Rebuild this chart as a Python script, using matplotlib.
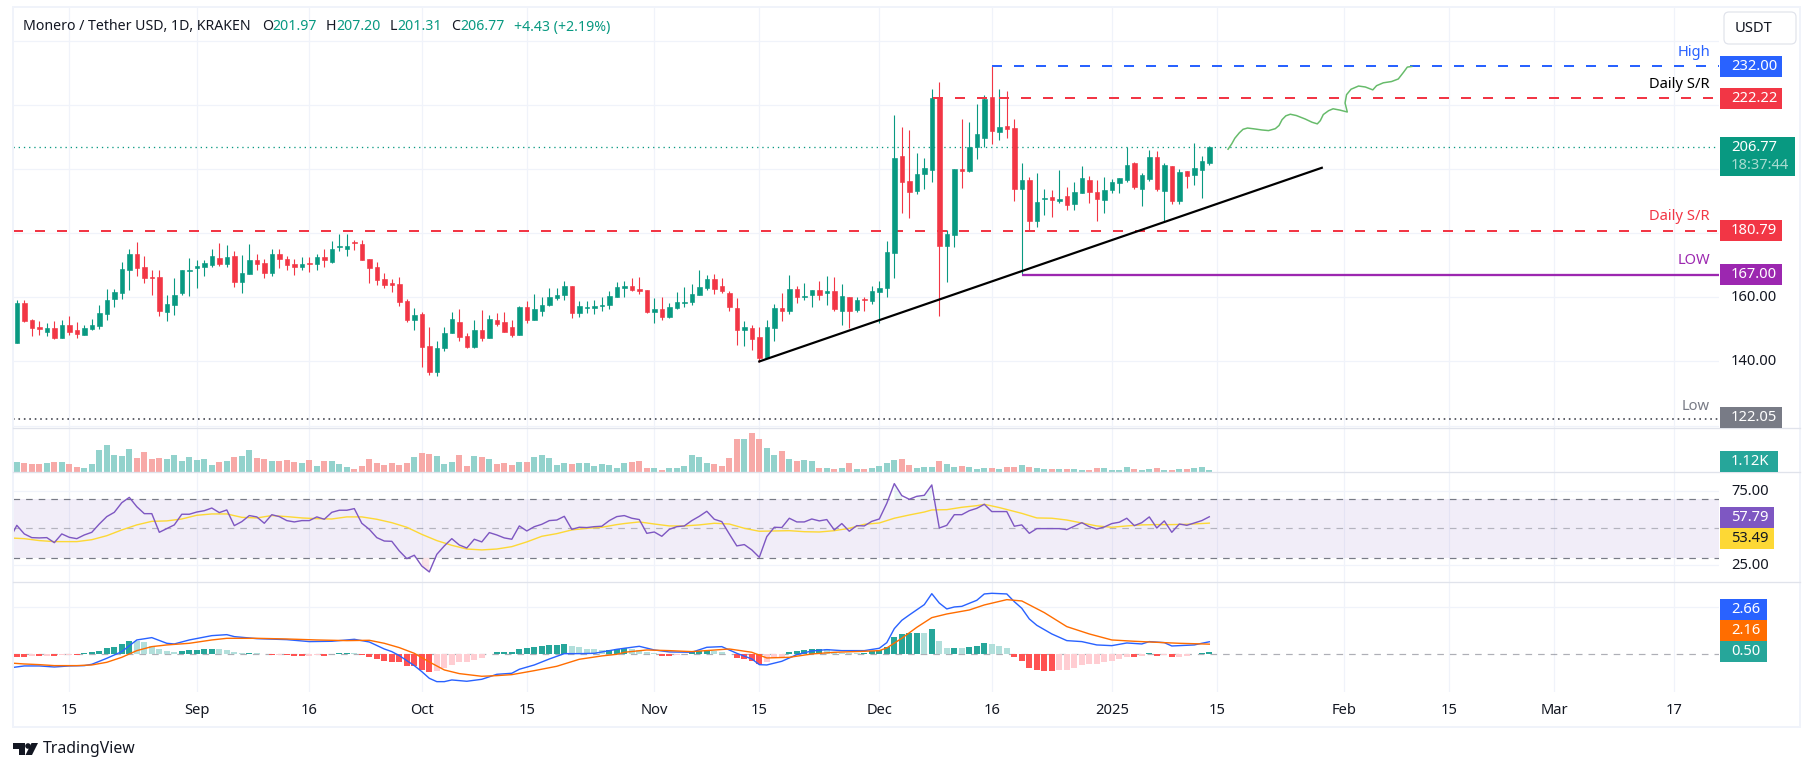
"""Monero / Tether USD daily chart in the TradingView layout."""

import matplotlib

matplotlib.use("Agg")
import matplotlib.pyplot as plt
import numpy as np
from matplotlib.patches import Circle, FancyBboxPatch, Polygon, Rectangle

WIDTH, HEIGHT = 1814, 771
plt.rcParams["font.family"] = ["Noto Sans", "DejaVu Sans"]

# x values are days counted from 15 Aug 2024
CANDLE_DAYS = np.arange(-7, 153)

OPENS = [
    145.8, 158.2, 152.8, 150.7, 149.3, 150.4, 147.4, 151.4, 149.8, 148.3,
    150.2, 151.1, 154.9, 159.6, 161.5, 168.6, 173.5, 169.5, 166.4, 166.4,
    155.5, 157.7, 161.5, 168.3, 169.0, 169.6, 170.2, 172.3, 170.5, 172.9,
    164.9, 167.4, 171.7, 170.7, 167.7, 173.5, 172.0, 170.4, 169.6, 170.7,
    170.5, 172.6, 171.1, 175.8, 175.2, 177.3, 176.7, 172.0, 169.5, 165.7,
    164.5, 164.2, 158.9, 153.0, 154.8, 144.8, 136.8, 144.3, 149.0, 152.3,
    147.9, 144.6, 149.8, 147.4, 152.9, 152.3, 150.7, 148.3, 157.0, 153.0,
    155.8, 157.6, 159.8, 160.7, 163.5, 155.2, 156.7, 156.8, 157.4, 157.7,
    160.1, 163.0, 163.5, 162.6, 162.3, 155.5, 156.4, 154.0, 156.7, 158.2,
    158.5, 160.8, 162.9, 165.7, 163.5, 161.4, 156.7, 149.9, 150.4, 147.6,
    141.1, 150.5, 156.7, 155.8, 162.6, 160.2, 160.8, 162.3, 161.5, 162.0,
    155.8, 160.1, 156.0, 159.5, 159.0, 161.7, 162.9, 173.9, 204.2, 196.4,
    193.2, 198.5, 199.8, 222.6, 176.0, 179.5, 200.1, 199.5, 207.0, 209.8,
    222.6, 211.7, 213.5, 212.9, 193.9, 196.7, 183.9, 190.8, 191.4, 190.1,
    191.7, 189.2, 192.6, 196.7, 192.9, 190.4, 193.5, 195.7, 196.7, 202.0,
    193.9, 197.0, 203.9, 193.2, 201.0, 190.1, 199.5, 198.2, 199.8, 201.97,
]
CLOSES = [
    158.2, 152.7, 150.5, 150.2, 150.4, 147.4, 151.4, 149.3, 148.6, 150.4,
    151.4, 155.1, 159.2, 161.7, 168.9, 173.5, 169.3, 166.1, 166.1, 155.8,
    157.9, 160.7, 168.5, 168.5, 169.8, 170.7, 172.9, 170.5, 172.6, 164.9,
    167.6, 171.7, 170.5, 167.7, 173.5, 172.1, 170.2, 169.6, 170.4, 170.5,
    172.6, 171.5, 175.1, 176.0, 176.0, 177.1, 171.8, 169.3, 165.5, 164.0,
    164.0, 158.6, 153.0, 154.5, 144.6, 136.8, 144.2, 148.9, 153.2, 147.7,
    144.6, 149.8, 147.4, 153.2, 151.7, 149.3, 148.3, 157.0, 152.9, 156.4,
    157.6, 160.1, 160.7, 163.5, 155.2, 157.3, 157.0, 157.3, 157.6, 160.4,
    163.2, 163.5, 162.3, 162.1, 155.5, 156.4, 154.0, 157.0, 158.5, 158.5,
    161.0, 163.2, 165.7, 162.6, 162.1, 157.1, 149.9, 150.7, 147.1, 141.1,
    150.7, 156.7, 155.8, 162.6, 160.2, 160.4, 162.3, 160.8, 162.0, 156.5,
    160.4, 155.8, 159.2, 159.3, 162.0, 162.9, 174.2, 203.5, 196.0, 192.9,
    198.5, 200.4, 222.3, 176.0, 179.8, 200.1, 199.5, 207.0, 211.0, 222.0,
    212.0, 213.2, 212.6, 193.9, 196.7, 183.9, 189.8, 191.0, 190.4, 190.7,
    188.9, 192.9, 197.3, 192.9, 190.7, 193.5, 196.0, 197.3, 201.4, 194.5,
    198.2, 203.9, 193.9, 201.4, 190.1, 199.2, 197.9, 200.4, 202.6, 206.77,
]
HIGHS = [
    159.2, 159.2, 153.1, 152.6, 152.0, 152.6, 152.9, 154.2, 152.3, 151.4,
    153.2, 157.6, 162.6, 162.6, 171.0, 175.1, 177.3, 172.9, 168.5, 168.5,
    160.7, 166.0, 168.5, 172.3, 171.7, 171.7, 175.1, 177.0, 176.4, 174.5,
    173.2, 176.7, 173.5, 172.0, 175.1, 175.1, 172.9, 172.0, 172.6, 172.6,
    173.5, 175.1, 177.6, 179.8, 179.8, 177.9, 177.9, 172.0, 171.0, 167.6,
    165.7, 166.4, 159.5, 156.7, 155.4, 150.7, 146.4, 150.7, 155.4, 156.4,
    148.9, 152.9, 156.0, 154.5, 155.1, 155.4, 152.9, 157.3, 158.9, 161.0,
    160.1, 162.9, 162.9, 165.1, 163.5, 158.9, 158.9, 159.2, 160.1, 162.0,
    164.8, 165.1, 166.0, 166.4, 162.3, 159.8, 160.1, 158.2, 161.7, 163.2,
    164.2, 168.5, 167.0, 167.3, 166.0, 162.0, 159.8, 152.6, 151.4, 150.7,
    152.9, 157.9, 161.4, 167.0, 163.5, 164.5, 162.3, 165.1, 166.7, 166.4,
    164.2, 160.1, 160.1, 160.1, 163.5, 165.1, 177.6, 217.0, 213.2, 212.3,
    205.1, 203.5, 225.1, 227.3, 181.0, 200.1, 215.7, 214.8, 220.4, 223.2,
    232.0, 225.1, 224.5, 215.7, 202.0, 197.6, 198.9, 193.9, 193.5, 199.8,
    194.5, 196.0, 201.0, 197.9, 196.7, 197.6, 197.0, 197.3, 206.8, 202.3,
    198.9, 206.0, 205.7, 202.0, 201.0, 200.1, 199.5, 208.2, 204.2, 207.20,
]
LOWS = [
    145.8, 152.4, 148.0, 148.3, 148.0, 147.1, 147.4, 148.4, 147.4, 148.3,
    149.9, 150.2, 153.0, 157.1, 159.6, 162.4, 166.8, 164.6, 160.8, 154.3,
    152.7, 154.6, 160.8, 160.5, 163.0, 166.5, 169.6, 169.9, 169.6, 163.3,
    161.5, 167.4, 168.6, 166.1, 166.8, 169.0, 168.6, 167.1, 168.6, 168.0,
    168.6, 169.6, 170.8, 174.6, 173.0, 174.9, 171.8, 164.6, 164.0, 163.0,
    161.8, 157.3, 152.4, 149.9, 138.3, 135.8, 135.5, 143.3, 149.0, 146.5,
    144.3, 144.3, 146.5, 147.4, 151.0, 149.3, 147.7, 148.3, 152.1, 153.0,
    154.3, 157.3, 159.2, 159.2, 153.6, 154.0, 155.2, 154.9, 155.8, 156.5,
    160.1, 160.1, 162.0, 161.1, 155.2, 152.1, 153.0, 153.6, 156.4, 157.1,
    157.7, 160.8, 162.3, 161.1, 161.5, 155.8, 145.2, 144.9, 143.6, 139.9,
    141.1, 146.5, 152.7, 154.9, 158.3, 159.3, 157.1, 159.3, 157.7, 155.8,
    151.5, 150.4, 155.4, 155.8, 158.0, 152.0, 160.1, 166.0, 186.4, 184.8,
    192.3, 193.9, 196.0, 154.2, 164.8, 175.7, 194.2, 199.2, 203.2, 207.0,
    207.9, 209.2, 209.8, 190.1, 167.0, 181.0, 182.0, 185.7, 185.1, 189.5,
    187.3, 187.3, 192.6, 189.5, 183.9, 186.4, 192.6, 192.6, 196.0, 193.9,
    188.5, 196.4, 193.2, 183.5, 189.2, 189.2, 194.2, 195.1, 191.0, 201.31,
]

# thousands of XMR per day
VOLUMES = [
    5.0, 4.6, 4.1, 4.1, 4.6, 5.0, 5.0, 4.1, 2.6, 2.1,
    4.1, 10.9, 13.3, 8.5, 8.0, 11.4, 7.0, 9.9, 6.5, 7.0,
    6.5, 8.5, 5.5, 7.5, 6.0, 6.5, 3.6, 5.0, 5.5, 7.5,
    8.0, 10.9, 7.0, 6.5, 5.5, 5.5, 6.0, 5.0, 4.6, 6.0,
    3.1, 5.5, 5.5, 4.1, 2.6, 1.6, 3.1, 6.5, 4.6, 3.6,
    4.6, 3.6, 4.6, 7.5, 9.4, 8.9, 8.0, 4.1, 5.0, 8.5,
    3.1, 8.0, 7.5, 6.5, 4.1, 4.6, 3.6, 5.0, 5.0, 7.5,
    8.5, 7.0, 3.6, 4.6, 4.1, 4.6, 4.6, 3.1, 4.1, 3.6,
    2.1, 4.6, 5.0, 5.5, 2.1, 2.1, 1.1, 2.1, 2.1, 3.1,
    8.5, 7.5, 4.6, 4.1, 3.1, 7.0, 16.3, 16.3, 19.3, 16.3,
    11.9, 8.5, 10.4, 6.5, 5.5, 6.0, 5.5, 2.1, 2.1, 1.6,
    2.1, 4.6, 1.6, 1.6, 2.1, 3.1, 4.6, 6.0, 6.5, 3.6,
    2.1, 2.6, 2.6, 5.5, 4.1, 2.6, 3.1, 2.6, 1.6, 2.1,
    2.1, 1.6, 2.6, 2.6, 3.6, 2.6, 2.1, 1.6, 1.6, 1.6,
    1.6, 1.6, 1.1, 1.1, 2.1, 2.1, 1.1, 1.1, 2.6, 1.6,
    1.1, 1.6, 2.1, 1.1, 1.1, 1.6, 1.6, 2.1, 2.6, 1.12,
]

# RSI starts one day before the first visible candle
RSI_DAYS = np.arange(-8, 153)
RSI_VALUES = [
    42.1, 52.0, 46.2, 43.7, 43.5, 43.7, 40.3, 46.2, 43.9, 43.0,
    45.5, 47.3, 52.9, 57.9, 60.8, 67.3, 70.9, 64.6, 59.9, 59.9,
    47.3, 49.8, 52.3, 59.5, 59.5, 61.0, 61.9, 63.7, 60.6, 62.4,
    51.8, 54.5, 58.6, 57.7, 53.4, 59.2, 57.9, 55.2, 54.3, 55.2,
    55.2, 57.7, 56.1, 60.8, 62.2, 62.2, 63.3, 53.4, 49.3, 43.7,
    41.4, 41.2, 34.7, 29.5, 31.8, 24.5, 20.5, 32.4, 38.1, 43.0,
    38.7, 36.7, 42.6, 40.8, 47.1, 45.5, 43.5, 42.6, 51.6, 48.2,
    51.1, 52.7, 55.2, 55.6, 58.1, 49.3, 50.7, 50.5, 51.1, 51.4,
    55.2, 57.9, 58.6, 56.8, 55.9, 46.6, 47.5, 44.6, 49.3, 51.1,
    51.6, 55.2, 58.1, 61.5, 56.1, 54.5, 46.2, 38.1, 39.0, 35.4,
    30.4, 44.4, 50.7, 50.5, 56.8, 54.3, 54.3, 56.3, 55.0, 55.9,
    48.9, 53.2, 48.0, 51.8, 51.6, 54.7, 56.3, 66.9, 80.2, 72.1,
    69.6, 71.6, 72.3, 79.3, 50.2, 52.0, 59.2, 59.2, 61.9, 63.5,
    66.2, 61.3, 61.3, 61.3, 51.4, 52.3, 46.6, 49.8, 49.8, 49.8,
    49.8, 49.1, 51.4, 53.8, 51.1, 49.5, 50.9, 53.2, 54.1, 56.8,
    51.8, 53.8, 57.7, 50.2, 55.0, 47.3, 52.9, 52.0, 53.6, 55.2,
    57.79,
]

RSI_MA_DAYS = [
    -8, -6, -4, -2, 1, 3, 5, 7, 9, 11, 13, 15, 17, 19, 21, 23, 25, 27, 29, 31,
    33, 35, 37, 39, 41, 43, 45, 47, 49, 51, 53, 55, 57, 59, 61, 63, 65, 67, 69,
    71, 73, 74, 76, 78, 80, 82, 84, 86, 88, 90, 92, 94, 96, 98, 100, 102, 104,
    106, 108, 110, 112, 114, 115, 117, 119, 121, 122, 124, 127, 129, 131, 133,
    135, 137, 139, 141, 143, 145, 147, 149, 152,
]
RSI_MA_VALUES = [
    43.5, 43.0, 41.7, 41.0, 41.0, 42.3, 45.0, 48.9, 52.3, 54.7, 55.0, 56.3,
    58.8, 59.7, 59.7, 57.4, 57.0, 58.6, 57.9, 57.0, 56.5, 56.3, 57.7, 57.7,
    56.1, 53.8, 50.7, 45.9, 41.7, 38.5, 36.0, 35.4, 36.0, 37.6, 40.8, 44.6,
    46.4, 48.9, 50.0, 50.7, 52.5, 53.2, 54.3, 52.9, 51.6, 51.6, 52.3, 53.4,
    52.9, 50.0, 48.0, 48.2, 48.4, 47.7, 47.5, 48.4, 50.0, 52.7, 53.6, 56.8,
    59.0, 61.0, 62.4, 62.6, 64.2, 65.3, 66.2, 64.0, 60.1, 57.0, 56.8, 55.6,
    53.6, 51.6, 50.7, 51.6, 52.3, 52.5, 52.5, 52.7, 53.49,
]

MACD_HIST = [
    -0.64, -0.64, -0.35, -0.35, -0.28, -0.35, -0.14, -0.07, -0.07, 0.21,
    0.50, 0.71, 1.35, 1.56, 2.20, 2.84, 2.77, 2.62, 1.77, 1.13,
    0.71, 0.50, 0.71, 0.92, 0.93, 1.13, 1.14, 1.10, 0.92, 0.50,
    0.21, 0.28, 0.21, 0.07, -0.14, -0.12, -0.21, -0.35, -0.36, -0.28,
    -0.21, -0.35, -0.02, 0.28, 0.29, 0.27, -0.14, -0.57, -1.00, -1.42,
    -1.63, -1.65, -2.48, -2.50, -3.33, -3.76, -3.55, -2.98, -2.27, -1.63,
    -1.61, -1.21, -0.78, 0.02, 0.50, 0.52, 0.53, 1.13, 1.35, 1.56,
    1.77, 1.99, 2.00, 2.20, 1.77, 1.56, 1.13, 1.10, 0.92, 0.95,
    1.13, 1.35, 1.13, 0.92, 0.50, 0.21, -0.35, -0.36, -0.14, -0.01,
    0.43, 0.64, 0.92, 0.78, 0.43, 0.14, -0.78, -0.99, -1.35, -2.13,
    -1.56, -0.78, -0.64, 0.50, 0.71, 0.92, 1.13, 1.21, 1.13, 0.43,
    0.35, 0.28, 0.21, 0.35, 0.64, 0.92, 1.63, 3.69, 4.33, 4.54,
    4.61, 4.57, 5.39, 2.84, 1.35, 1.38, 1.35, 1.56, 1.77, 2.41,
    2.20, 1.77, 1.35, -0.57, -1.42, -2.91, -3.33, -3.55, -3.58, -3.33,
    -3.32, -2.91, -2.27, -2.06, -2.05, -1.63, -1.42, -0.99, -0.57, -0.60,
    -0.28, 0.28, -0.35, -0.07, -0.57, -0.50, -0.28, -0.02, 0.28, 0.50,
]

MACD_DAYS = [
    -8, -6, -4, -2, 0, 2, 3, 5, 7, 9, 11, 13, 14, 16, 19, 21, 22, 25, 29, 32,
    35, 38, 40, 42, 43, 44, 46, 47, 48, 49, 50, 51, 53, 55, 57, 59, 60, 62, 64,
    66, 68, 70, 73, 74, 76, 78, 80, 83, 85, 87, 89, 91, 92, 93, 95, 97, 99, 101,
    103, 106, 108, 109, 110, 111, 112, 114, 115, 116, 117, 118, 119, 120, 121,
    122, 123, 125, 126, 127, 128, 129, 131, 133, 135, 137, 139, 141, 143, 144,
    146, 147, 150, 151, 152,
]
MACD_VALUES = [
    -2.90, -2.48, -2.48, -2.70, -2.48, -2.41, -2.13, -0.85, 0.57, 3.05, 3.55,
    2.34, 2.20, 3.05, 3.97, 4.18, 3.76, 3.33, 3.12, 2.70, 2.77, 3.19, 2.62,
    1.13, 0.57, -0.28, -2.41, -3.69, -5.11, -5.82, -5.82, -5.46, -5.74, -5.32,
    -4.26, -4.04, -3.19, -2.27, -1.00, 0.14, 0.14, 0.21, 1.06, 1.28, 1.70,
    0.92, 0.50, 0.43, 1.49, 1.63, 0.21, -0.99, -2.20, -2.27, -1.49, -0.07,
    0.71, 0.99, 0.78, 0.78, 1.28, 2.48, 5.46, 7.23, 8.37, 10.57, 12.90, 10.90,
    9.65, 10.07, 10.20, 10.85, 11.49, 12.84, 12.98, 12.84, 11.20, 9.79, 7.52,
    6.17, 4.33, 2.91, 2.70, 1.99, 1.84, 2.41, 2.20, 2.70, 2.48, 1.77, 1.99,
    2.34, 2.66,
]
SIGNAL_DAYS = [
    -8, -6, -4, -2, 1, 3, 5, 7, 9, 11, 13, 16, 19, 21, 25, 29, 33, 37, 40, 42,
    44, 46, 48, 50, 52, 55, 57, 59, 62, 65, 68, 71, 73, 74, 77, 80, 83, 88, 91,
    93, 96, 99, 102, 106, 108, 109, 111, 113, 115, 117, 120, 122, 125, 127, 130,
    133, 136, 139, 142, 145, 148, 152,
]
SIGNAL_VALUES = [
    -1.84, -2.06, -2.20, -2.41, -2.41, -2.27, -1.70, -0.64, 0.78, 1.63, 1.99,
    2.34, 3.05, 3.40, 3.40, 3.26, 3.05, 2.91, 2.98, 2.34, 1.42, 0.21, -1.63,
    -3.33, -4.11, -4.68, -4.54, -4.33, -3.48, -2.55, -1.06, -0.35, 0.00, 0.43,
    0.92, 0.78, 0.57, 1.13, 0.43, -0.78, -0.64, 0.07, 0.43, 0.64, 0.78, 1.35,
    3.40, 5.74, 7.80, 8.58, 9.43, 10.50, 11.63, 11.35, 8.87, 5.89, 4.33, 3.05,
    2.77, 2.55, 2.34, 2.16,
]

# projected path, hand drawn on the original
PATH_DAYS = [
    154.5, 155.0, 155.4, 156.0, 156.5, 157.1, 158.1, 159.0, 159.9, 160.8, 161.3,
    161.7, 162.2, 162.8, 163.6, 164.8, 165.7, 166.4, 166.8, 167.2, 167.9, 168.5,
    169.4, 170.4, 170.1, 170.3, 170.9, 171.9, 172.8, 173.8, 174.3, 175.2, 176.3,
    177.2, 177.9, 178.4, 179.0,
]
PATH_PRICES = [
    206.2, 207.9, 209.6, 211.3, 212.4, 212.8, 212.5, 212.2, 212.0, 212.6, 213.6,
    215.4, 216.6, 217.1, 216.7, 215.6, 214.6, 214.1, 215.1, 217.0, 218.2, 218.8,
    218.4, 217.8, 220.6, 223.2, 224.9, 225.9, 225.6, 224.7, 226.0, 226.9, 227.3,
    228.1, 230.2, 231.8, 232.0,
]

TREND_DAYS = [92, 167]
TREND_PRICES = [140.0, 200.4]

LAST_PRICE = 206.77
HIGH_LEVEL = 232.00
RESISTANCE = 222.22
SUPPORT = 180.79
LOW_LEVEL = 167.00
OLD_LOW = 122.05

TICK_DAYS = [0, 17, 32, 47, 61, 78, 92, 108, 123, 139, 153, 170, 184, 198, 214]
TICK_LABELS = ["15", "Sep", "16", "Oct", "15", "Nov", "15", "Dec", "16", "2025",
               "15", "Feb", "15", "Mar", "17"]
PRICE_GRID = [120, 140, 160, 180, 200, 220, 240]

GREEN = "#089981"
RED = "#f23645"
BLUE = "#2962ff"
ORANGE = "#ff6d00"
PURPLE = "#9c27b0"
RSI_PURPLE = "#7e57c2"
YELLOW = "#fdd835"
TEAL = "#26a69a"
GRAY = "#787b86"
INK = "#131722"
GRID = "#f0f3fa"
PANE_LINE = "#e0e3eb"

PX = 0.72  # one pixel in points at dpi 100
LABEL_SIZE = 10.6
HEADER_SIZE = 10.2

# pane edges in pixels
PLOT_LEFT, PLOT_RIGHT = 13, 1719
FRAME_RIGHT, FRAME_TOP, FRAME_BOTTOM = 1800, 6.5, 727
VOL_TOP, RSI_TOP, MACD_TOP, MACD_BOTTOM = 428.3, 472.3, 582.3, 691.7
DAY_X0, DAY_PX = 69.3, 7.5


def pane(top, bottom, ylim):
    ax = fig.add_axes([
        PLOT_LEFT / WIDTH,
        1 - bottom / HEIGHT,
        (PLOT_RIGHT - PLOT_LEFT) / WIDTH,
        (bottom - top) / HEIGHT,
    ])
    ax.set_xlim((PLOT_LEFT - DAY_X0) / DAY_PX, (PLOT_RIGHT - DAY_X0) / DAY_PX)
    ax.set_ylim(*ylim)
    ax.set_xticks([])
    ax.set_yticks([])
    for spine in ax.spines.values():
        spine.set_visible(False)
    for day in TICK_DAYS:
        ax.axvline(day, color=GRID, lw=1.2 * PX, zorder=0)
    return ax


def pill(y0, y1, text, color, right=1782, text_color="white"):
    over.add_patch(Rectangle((1720, y0), right - 1720, y1 - y0, color=color, lw=0, zorder=3))
    over.text(1731, (y0 + y1) / 2, text, color=text_color, fontsize=LABEL_SIZE,
              va="center", ha="left", zorder=4)


fig = plt.figure(figsize=(WIDTH / 100, HEIGHT / 100), dpi=100, facecolor="white")

# ---------- price pane ----------
ax_price = pane(FRAME_TOP, VOL_TOP, (119.16, 250.7))
for level in PRICE_GRID:
    ax_price.axhline(level, color=GRID, lw=1.2 * PX, zorder=0)

opens = np.array(OPENS)
closes = np.array(CLOSES)
up = closes >= opens
candle_colors = np.where(up, GREEN, RED)
ax_price.vlines(CANDLE_DAYS, LOWS, HIGHS, colors=candle_colors, lw=1.1 * PX, zorder=3)
ax_price.bar(CANDLE_DAYS, np.abs(closes - opens), bottom=np.minimum(opens, closes),
             width=0.6, color=candle_colors, edgecolor=candle_colors, lw=0.6 * PX, zorder=3)

xmin, xmax = ax_price.get_xlim()
ax_price.hlines(LAST_PRICE, xmin, xmax, color=GREEN, lw=1.3 * PX, ls=(0, (1, 3)), zorder=2)
dash = (0, (5, 6))
ax_price.hlines(HIGH_LEVEL, TICK_DAYS[8], xmax, color=BLUE, lw=2 * PX, ls=dash, zorder=4)
ax_price.hlines(RESISTANCE, 115.2, xmax, color=RED, lw=2 * PX, ls=dash, zorder=4)
ax_price.hlines(SUPPORT, xmin, xmax, color=RED, lw=2 * PX, ls=dash, zorder=2)
ax_price.hlines(LOW_LEVEL, 127, xmax, color=PURPLE, lw=2.3 * PX, zorder=4)
ax_price.hlines(OLD_LOW, xmin, xmax, color="#3a3d47", lw=1.6 * PX, ls=(0, (1, 2.4)), zorder=2)
ax_price.plot(TREND_DAYS, TREND_PRICES, color="black", lw=2.2 * PX, zorder=5)
ax_price.plot(PATH_DAYS, PATH_PRICES, color="#66bb6a", lw=1.5 * PX, zorder=5)

# ---------- volume pane ----------
ax_vol = pane(VOL_TOP, RSI_TOP, (0, 21.6))
vol_colors = np.where(up, "#92d2cc", "#f7a9a7")
ax_vol.bar(CANDLE_DAYS, VOLUMES, width=0.85, color=vol_colors, lw=0, zorder=3)

# ---------- RSI pane ----------
ax_rsi = pane(RSI_TOP, MACD_TOP, (13.51, 87.84))
ax_rsi.axhline(75, color=GRID, lw=1.2 * PX, zorder=0)
ax_rsi.axhline(25, color=GRID, lw=1.2 * PX, zorder=0)
ax_rsi.axhspan(30, 70, color=RSI_PURPLE, alpha=0.1, lw=0, zorder=1)
band = (0, (5.5, 5))
ax_rsi.axhline(70, color=GRAY, lw=1.2 * PX, ls=band, zorder=2)
ax_rsi.axhline(30, color=GRAY, lw=1.2 * PX, ls=band, zorder=2)
ax_rsi.axhline(50, color=GRAY, lw=1.2 * PX, ls=band, alpha=0.5, zorder=2)
rsi = np.array(RSI_VALUES)
ax_rsi.fill_between(RSI_DAYS, 70, rsi, where=rsi > 70, color=GREEN, alpha=0.08, lw=0)
ax_rsi.fill_between(RSI_DAYS, 30, rsi, where=rsi < 30, color=RED, alpha=0.12, lw=0)
ax_rsi.plot(RSI_MA_DAYS, RSI_MA_VALUES, color=YELLOW, lw=1.4 * PX, zorder=3)
ax_rsi.plot(RSI_DAYS, rsi, color=RSI_PURPLE, lw=1.4 * PX, zorder=4)

# ---------- MACD pane ----------
ax_macd = pane(MACD_TOP, MACD_BOTTOM, (-7.96, 15.32))
ax_macd.axhline(10, color=GRID, lw=1.2 * PX, zorder=0)
ax_macd.axhline(0, color=GRAY, lw=1.2 * PX, ls=band, alpha=0.6, zorder=1)
hist = np.array(MACD_HIST)
prev = np.concatenate([[hist[0] + 0.01], hist[:-1]])
hist_colors = np.where(
    hist >= 0,
    np.where(hist >= prev, "#26a69a", "#b2dfdb"),
    np.where(hist <= prev, "#ff5252", "#ffcdd2"),
)
ax_macd.bar(CANDLE_DAYS, hist, width=0.85, color=hist_colors, lw=0, zorder=2)
ax_macd.plot(MACD_DAYS, MACD_VALUES, color=BLUE, lw=1.4 * PX, zorder=3)
ax_macd.plot(SIGNAL_DAYS, SIGNAL_VALUES, color=ORANGE, lw=1.4 * PX, zorder=4)

# ---------- frame, scale labels and text, laid out in pixels ----------
over = fig.add_axes([0, 0, 1, 1], zorder=10)
over.set_xlim(0, WIDTH)
over.set_ylim(HEIGHT, 0)
over.axis("off")

over.add_patch(Rectangle((PLOT_LEFT, FRAME_TOP), FRAME_RIGHT - PLOT_LEFT, FRAME_BOTTOM - FRAME_TOP,
                         fill=False, ec=GRID, lw=2 * PX))
for y in (VOL_TOP, RSI_TOP, MACD_TOP):
    over.plot([PLOT_LEFT, FRAME_RIGHT], [y, y], color=PANE_LINE, lw=1.3 * PX)

over.add_patch(FancyBboxPatch((1727, 15), 66, 26, boxstyle="round,pad=3,rounding_size=5",
                              fc="white", ec=PANE_LINE, lw=1.2 * PX))
over.text(1735, 28, "USDT", color=INK, fontsize=LABEL_SIZE, va="center", ha="left")

# tick labels that sit on the scale, 220.00 is mostly hidden by its neighbour
for y, text in [(105.3, "220.00"), (297.3, "160.00"), (361.3, "140.00"), (491.3, "75.00"), (565.3, "25.00")]:
    over.text(1731, y, text, color=INK, fontsize=LABEL_SIZE, va="center", ha="left", zorder=2)

pill(56, 77, f"{HIGH_LEVEL:.2f}", BLUE)
pill(88, 109, f"{RESISTANCE:.2f}", RED)
pill(137, 176, "", GREEN, right=1795)
over.text(1731, 147.5, f"{LAST_PRICE:.2f}", color="white", fontsize=LABEL_SIZE, va="center", zorder=4)
over.text(1731, 165.5, "18:37:44", color="#a9dcd1", fontsize=LABEL_SIZE, va="center", zorder=4)
pill(220, 241, f"{SUPPORT:.2f}", RED)
pill(264, 285, f"{LOW_LEVEL:.2f}", PURPLE)
pill(407, 428, f"{OLD_LOW:.2f}", GRAY)
pill(451, 472, f"{VOLUMES[-1]:.2f}K", TEAL, right=1778)
pill(507, 528, f"{RSI_VALUES[-1]:.2f}", RSI_PURPLE, right=1774)
pill(528, 549, f"{RSI_MA_VALUES[-1]:.2f}", YELLOW, right=1774, text_color=INK)
pill(599, 620, f"{MACD_VALUES[-1]:.2f}", BLUE, right=1767)
pill(620, 641, f"{SIGNAL_VALUES[-1]:.2f}", ORANGE, right=1767)
pill(641, 662, f"{MACD_HIST[-1]:.2f}", TEAL, right=1767)

for y, text, color in [
    (53, "High", BLUE),
    (85, "Daily S/R", "black"),
    (217, "Daily S/R", RED),
    (260, "LOW", PURPLE),
    (406, "Low", GRAY),
]:
    over.text(1710, y, text, color=color, fontsize=LABEL_SIZE, va="center", ha="right")

for day, text in zip(TICK_DAYS, TICK_LABELS):
    over.text(DAY_X0 + day * DAY_PX, 710, text, color=INK, fontsize=LABEL_SIZE, ha="center",
              va="center", fontweight="bold" if text == "2025" else "normal")

# header line
over.text(23, 27, "Monero / Tether USD, 1D, KRAKEN", color=INK, fontsize=HEADER_SIZE, va="center")
for x, text, color in [
    (262, "O", INK), (272.5, "201.97", GREEN),
    (326, "H", INK), (336, "207.20", GREEN),
    (390, "L", INK), (397.5, "201.31", GREEN),
    (451.5, "C", INK), (460.5, "206.77", GREEN),
    (514.5, "+4.43 (+2.19%)", GREEN),
]:
    over.text(x, 27, text, color=color, fontsize=HEADER_SIZE, va="center")

# TradingView mark
over.add_patch(Polygon([(13, 743), (25, 743), (25, 755), (19, 755), (19, 749), (13, 749)], color=INK, lw=0))
over.add_patch(Circle((28, 746), 2.8, color=INK, lw=0))
over.add_patch(Polygon([(31.5, 743), (38, 743), (32, 755), (25.5, 755)], color=INK, lw=0))
over.text(43, 749, "TradingView", color=INK, fontsize=11.4, va="center")

fig.savefig("out.png", dpi=100, facecolor="white")
